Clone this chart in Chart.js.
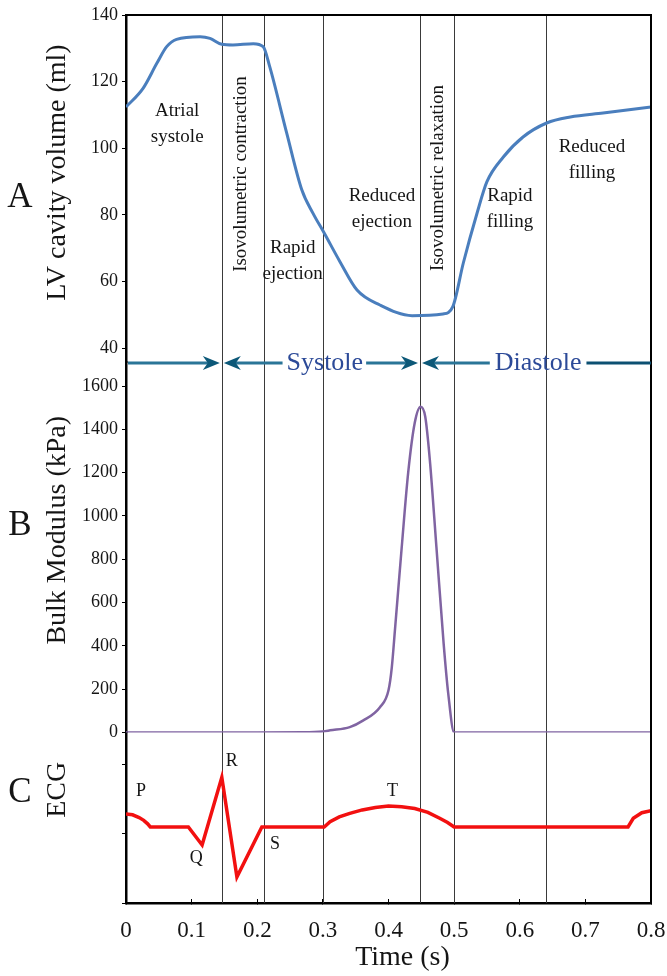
<!DOCTYPE html>
<html>
<head>
<meta charset="utf-8">
<script src="https://cdn.jsdelivr.net/npm/chart.js@4.4.1/dist/chart.umd.min.js"></script>
<style>
  body { margin: 0; background: #fff; }
  canvas { display: block; }
</style>
</head>
<body>
<canvas id="cardiac" width="667" height="976"></canvas>
<script>
// panel A - LV cavity volume (ml)
const volumeTime = [0, 0.026, 0.047, 0.062, 0.077, 0.113, 0.128, 0.146, 0.163, 0.194, 0.209, 0.219, 0.245, 0.268, 0.285, 0.302, 0.326, 0.352, 0.387, 0.436, 0.483, 0.498, 0.514, 0.535, 0.55, 0.575, 0.605, 0.641, 0.677, 0.727, 0.8];
const volume = [112.4, 118, 125.5, 130.5, 132.7, 133.5, 133, 131.2, 131, 131.4, 130.5, 124.5, 104.5, 87.5, 80.5, 74.6, 66, 57.5, 53, 49.8, 50.3, 52.5, 65.6, 80.6, 90, 97.4, 103.4, 107.6, 109.4, 110.6, 112.4];

// panel B - bulk modulus (kPa)
const bulkTime = [0, 0.1, 0.2, 0.27, 0.3, 0.311, 0.341, 0.361, 0.387, 0.4, 0.405, 0.41, 0.42, 0.43, 0.44, 0.449, 0.456, 0.463, 0.473, 0.484, 0.491, 0.5, 0.6, 0.7, 0.8];
const bulkModulus = [0, 0, 0, 1, 5, 10, 25, 55, 117, 195, 300, 480, 850, 1200, 1430, 1504, 1458, 1258, 857, 412, 181, 0, 0, 0, 0];

// panel C - ECG (arbitrary units)
const ecgTime = [0, 0.01, 0.02, 0.027, 0.033, 0.037, 0.095, 0.116, 0.146, 0.169, 0.207, 0.302, 0.311, 0.325, 0.341, 0.36, 0.38, 0.4, 0.42, 0.44, 0.46, 0.478, 0.49, 0.5, 0.765, 0.773, 0.786, 0.8];
const ecg = [2.56, 2.54, 2.46, 2.38, 2.28, 2.19, 2.19, 1.67, 3.62, 0.75, 2.19, 2.19, 2.34, 2.48, 2.58, 2.68, 2.75, 2.79, 2.77, 2.72, 2.61, 2.44, 2.32, 2.19, 2.19, 2.44, 2.6, 2.66];

// cardiac cycle phases
const phaseBoundaries = [0.146, 0.21, 0.30, 0.448, 0.50, 0.64];
const phaseNames = [['Atrial', 'systole'], ['Isovolumetric contraction'], ['Rapid', 'ejection'], ['Reduced', 'ejection'], ['Isovolumetric relaxation'], ['Rapid', 'filling'], ['Reduced', 'filling']];
const phaseNameTime = [0.078, 0.175, 0.254, 0.390, 0.475, 0.585, 0.710];
const phaseNameVolume = [107.4, 92.3, 66.2, 81.7, 91.1, 81.7, 96.5];
const phaseNameVertical = [false, true, false, false, true, false, false];

const cycleNames = ['Systole', 'Diastole'];
const cycleTime = [0.303, 0.628];

const waveNames = ['P', 'Q', 'R', 'S', 'T'];
const waveTime = [0.023, 0.107, 0.161, 0.227, 0.406];
const waveLevel = [3.21, 1.30, 4.07, 1.68, 3.21];

const serif = '"Liberation Serif", "DejaVu Serif", serif';

function arrowHead(ctx, tip, y, dir) {
  ctx.beginPath();
  ctx.moveTo(tip, y);
  ctx.lineTo(tip - dir * 17, y - 7);
  ctx.lineTo(tip - dir * 12, y);
  ctx.lineTo(tip - dir * 17, y + 7);
  ctx.closePath();
  ctx.fill();
}

function hLine(ctx, x1, x2, y) {
  ctx.beginPath();
  ctx.moveTo(x1, y);
  ctx.lineTo(x2, y);
  ctx.stroke();
}

const decorations = {
  id: 'decorations',
  beforeDatasetsDraw(chart) {
    const {ctx, chartArea, scales: {x}} = chart;
    ctx.save();
    ctx.strokeStyle = '#3a3a3a';
    ctx.lineWidth = 1;
    phaseBoundaries.forEach(t => {
      const px = Math.round(x.getPixelForValue(t)) + 0.5;
      ctx.beginPath();
      ctx.moveTo(px, chartArea.top);
      ctx.lineTo(px, chartArea.bottom);
      ctx.stroke();
    });
    ctx.restore();
  },
  afterDatasetsDraw(chart) {
    const {ctx, chartArea, scales: {x, yVol, yEcg}} = chart;
    ctx.save();

    // top and right frame
    ctx.strokeStyle = '#000';
    ctx.lineWidth = 2;
    ctx.beginPath();
    ctx.moveTo(chartArea.left, chartArea.top);
    ctx.lineTo(chartArea.right, chartArea.top);
    ctx.lineTo(chartArea.right, chartArea.bottom);
    ctx.stroke();

    // phase names
    ctx.fillStyle = '#151515';
    ctx.textAlign = 'center';
    ctx.textBaseline = 'middle';
    ctx.font = `19px ${serif}`;
    phaseNames.forEach((lines, i) => {
      const px = x.getPixelForValue(phaseNameTime[i]);
      const py = yVol.getPixelForValue(phaseNameVolume[i]);
      if (phaseNameVertical[i]) {
        ctx.save();
        ctx.translate(px, py);
        ctx.rotate(-Math.PI / 2);
        ctx.fillText(lines[0], 0, 0);
        ctx.restore();
      } else {
        lines.forEach((s, j) => ctx.fillText(s, px, py + (j - (lines.length - 1) / 2) * 26));
      }
    });

    // ECG wave letters
    ctx.font = `18px ${serif}`;
    waveNames.forEach((s, i) => {
      ctx.fillText(s, x.getPixelForValue(waveTime[i]), yEcg.getPixelForValue(waveLevel[i]));
    });

    // systole / diastole arrows
    const y = yVol.bottom + 1;
    const b1 = x.getPixelForValue(phaseBoundaries[0]);
    const b2 = x.getPixelForValue(phaseBoundaries[3]);
    ctx.font = `26px ${serif}`;
    const sx = x.getPixelForValue(cycleTime[0]);
    const dx = x.getPixelForValue(cycleTime[1]);
    const sw = ctx.measureText(cycleNames[0]).width;
    const dw = ctx.measureText(cycleNames[1]).width;
    ctx.strokeStyle = '#2a7597';
    ctx.lineWidth = 3;
    hLine(ctx, chartArea.left + 2, b1 - 12, y);
    hLine(ctx, b1 + 12, sx - sw / 2 - 4, y);
    hLine(ctx, sx + sw / 2 + 3, b2 - 12, y);
    hLine(ctx, b2 + 12, dx - dw / 2 - 5, y);
    ctx.strokeStyle = '#0c5072';
    hLine(ctx, dx + dw / 2 + 5, chartArea.right, y);
    ctx.fillStyle = '#0c5878';
    arrowHead(ctx, b1 - 2, y, 1);
    arrowHead(ctx, b1 + 2, y, -1);
    arrowHead(ctx, b2 - 2, y, 1);
    arrowHead(ctx, b2 + 2, y, -1);
    ctx.fillStyle = '#2c4a98';
    ctx.fillText(cycleNames[0], sx, y);
    ctx.fillText(cycleNames[1], dx, y);

    ctx.restore();
  },
  afterDraw(chart) {
    const {ctx, chartArea, scales: {yVol, yBulk, yEcg}} = chart;
    ctx.save();
    ctx.fillStyle = '#151515';
    ctx.textAlign = 'center';
    ctx.textBaseline = 'middle';
    const panels = [
      [yVol, 'LV cavity volume (ml)', 'A', -16, 9],
      [yBulk, 'Bulk Modulus (kPa)', 'B', -17, -21],
      [yEcg, 'ECG', 'C', -28, -25]
    ];
    panels.forEach(([s, title, letter, dt, dl]) => {
      const mid = (s.top + s.bottom) / 2;
      ctx.save();
      ctx.translate(chartArea.left - 68, mid + dt);
      ctx.rotate(-Math.PI / 2);
      ctx.font = `28px ${serif}`;
      ctx.fillText(title, 0, 0);
      ctx.restore();
      ctx.font = `35px ${serif}`;
      ctx.fillText(letter, chartArea.left - 106, mid + dl);
    });
    ctx.font = `28px ${serif}`;
    ctx.fillText('Time (s)', (chartArea.left + chartArea.right) / 2 + 14, chartArea.bottom + 55);
    ctx.restore();
  }
};

const yTickFont = {family: serif, size: 18};
const plainNumber = v => String(v);

new Chart(document.getElementById('cardiac'), {
  type: 'line',
  data: {
    datasets: [
      {
        label: 'LV cavity volume',
        data: volumeTime.map((t, i) => ({x: t, y: volume[i]})),
        yAxisID: 'yVol',
        borderColor: '#4a7ebd',
        borderWidth: 3,
        pointRadius: 0,
        cubicInterpolationMode: 'monotone'
      },
      {
        label: 'Bulk modulus',
        data: bulkTime.map((t, i) => ({x: t, y: bulkModulus[i]})),
        yAxisID: 'yBulk',
        borderColor: '#8064a2',
        borderWidth: 2.5,
        pointRadius: 0,
        cubicInterpolationMode: 'monotone'
      },
      {
        label: 'ECG',
        data: ecgTime.map((t, i) => ({x: t, y: ecg[i]})),
        yAxisID: 'yEcg',
        borderColor: '#f21010',
        borderWidth: 3.5,
        pointRadius: 0,
        tension: 0
      }
    ]
  },
  options: {
    responsive: false,
    animation: false,
    devicePixelRatio: 1,
    layout: {padding: {left: 0, top: 15, right: 0, bottom: 0}},
    plugins: {legend: {display: false}, tooltip: {enabled: false}},
    scales: {
      x: {
        type: 'linear',
        position: 'bottom',
        min: 0,
        max: 0.8,
        ticks: {stepSize: 0.1, color: '#151515', font: {family: serif, size: 23}, padding: 18, maxRotation: 0, autoSkip: false},
        grid: {drawOnChartArea: false, tickLength: -4, color: '#000'},
        border: {color: '#000', width: 2.5},
        afterFit: s => { s.height = 73; s.paddingLeft = 0; s.paddingRight = 16; }
      },
      yVol: {
        type: 'linear',
        position: 'left',
        stack: 'panels',
        stackWeight: 347,
        weight: 3,
        min: 35.9,
        max: 140,
        ticks: {stepSize: 20, includeBounds: false, color: '#151515', font: yTickFont, padding: 4, callback: plainNumber},
        grid: {drawOnChartArea: false, tickLength: 4, color: '#000'},
        border: {color: '#000', width: 2.5},
        afterFit: s => { s.width = 126; }
      },
      yBulk: {
        type: 'linear',
        position: 'left',
        stack: 'panels',
        stackWeight: 370.5,
        weight: 2,
        min: 0,
        max: 1711,
        ticks: {stepSize: 200, includeBounds: false, color: '#151515', font: yTickFont, padding: 4, callback: plainNumber},
        grid: {drawOnChartArea: false, tickLength: 4, color: '#000'},
        border: {color: '#000', width: 2.5},
        afterFit: s => { s.width = 126; }
      },
      yEcg: {
        type: 'linear',
        position: 'left',
        stack: 'panels',
        stackWeight: 170.5,
        weight: 1,
        min: 0,
        max: 4.91,
        ticks: {stepSize: 1, includeBounds: false, callback: () => '', font: yTickFont, padding: 4},
        grid: {drawOnChartArea: false, tickLength: 4, color: '#000'},
        border: {color: '#000', width: 2.5},
        afterFit: s => { s.width = 126; }
      }
    }
  },
  plugins: [decorations]
});
</script>
</body>
</html>
